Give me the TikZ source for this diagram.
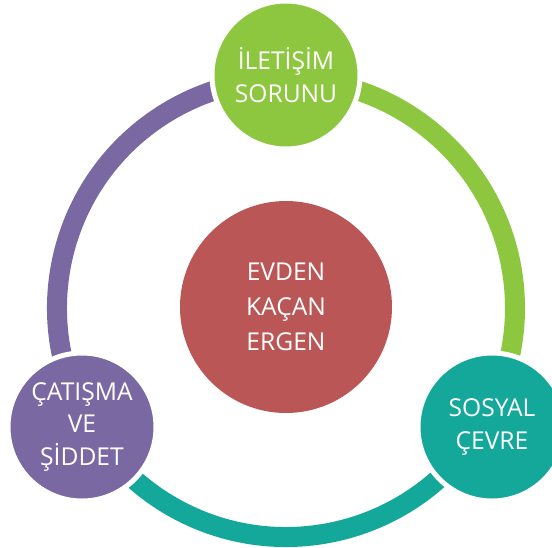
\documentclass[tikz,border=0pt]{standalone}
\usepackage{fontspec}
\setmainfont{Open Sans}

\definecolor{yesil}{HTML}{8DC63F}
\definecolor{mor}{HTML}{7A68A2}
\definecolor{turkuaz}{HTML}{14A89B}
\definecolor{kirmizi}{HTML}{BA5756}

\begin{document}
\begin{tikzpicture}[x=0.03cm,y=0.03cm,
    daire/.style={circle, fill=#1, draw=white, line width=0.15cm,
      inner sep=0pt, text=white, align=center,
      font=\fontsize{21}{28}\selectfont},
    halka/.style={line width=0.6cm, #1}]
        \useasboundingbox (-286,-239) rectangle (266,308);
        % Merkez
        \coordinate (orta) at (0,0);
        % Halka
        \draw[halka=yesil] ([shift={(90:229)}]orta) arc[start angle=90, end angle=-30, radius=229];
        \draw[halka=turkuaz] ([shift={(-30:229)}]orta) arc[start angle=-30, end angle=-150, radius=229];
        \draw[halka=mor] ([shift={(210:229)}]orta) arc[start angle=210, end angle=90, radius=229];
        % Daireler
        \node[daire=kirmizi, draw=none, minimum size=6.36cm,
              font=\fontsize{21}{30}\selectfont] (ergen) at (0,1) {EVDEN\\KAÇAN\\ERGEN};
        \node[daire=yesil, minimum size=4.44cm] (iletisim) at (0,233) {İLETİŞİM\\SORUNU};
        \node[daire=turkuaz, minimum size=4.44cm] (cevre) at (206,-119) {SOSYAL\\ÇEVRE};
        \node[daire=mor, minimum size=4.44cm] (catisma) at (-204,-119) {ÇATIŞMA\\VE\\ŞİDDET};
    \end{tikzpicture}
\end{document}
